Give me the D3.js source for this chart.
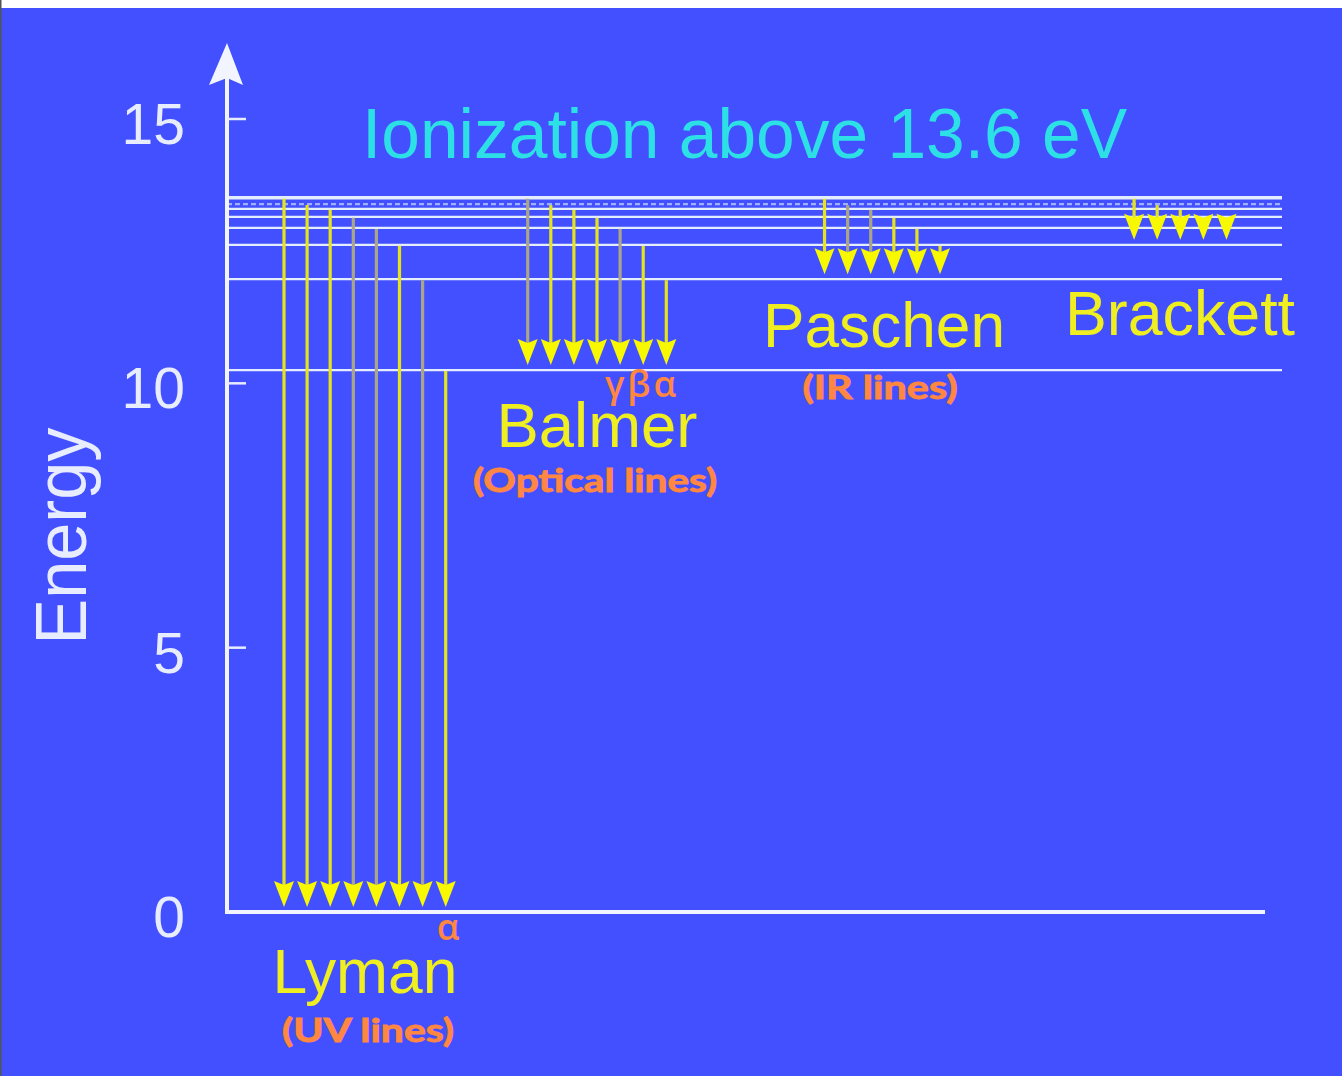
<!DOCTYPE html>
<html>

<head>
  <link rel="shortcut icon" href="#">
  <style>
    body {
      margin: 0;
      background: #ffffff;
    }

    .axis-label {
      font-family: "Liberation Sans", Arial, sans-serif;
      fill: #e8ecff;
    }

    .series-name {
      font-family: "Liberation Sans", Arial, sans-serif;
      fill: #eeee20;
    }

    .series-note {
      font-family: Lato, "Open Sans", sans-serif;
      font-weight: 700;
      fill: #ff8742;
      stroke: #ff8742;
      stroke-width: 0.9px;
    }

    .greek {
      font-family: "Open Sans", "Noto Sans", sans-serif;
      font-weight: 600;
      fill: #ff8742;
    }
  </style>
</head>

<body>
  <script src="https://d3js.org/d3.v7.min.js"></script>
  <svg id="chart"></svg>

  <script>
    // energy levels (eV) by principal number n
    var levelN = [1, 2, 3, 4, 5, 6, 7, 8, 9];
    var levelEnergy = [0, 10.25, 11.97, 12.62, 12.94, 13.15, 13.30, 13.39, 13.51];
    var ionizationEnergy = 13.6;

    // the four series: name, lower level, wavelength band
    var seriesNames = ["Lyman", "Balmer", "Paschen", "Brackett"];
    var seriesLower = [1, 2, 3, 4];
    var seriesNotes = ["(UV lines)", "(Optical lines)", "(IR lines)", ""];
    var seriesGreek = ["\u03b1", "\u03b3\u03b2\u03b1", "", ""];

    var yTicks = [0, 5, 10, 15];
    var titleText = "Ionization above " + ionizationEnergy + " eV";

    var width = 1342;
    var height = 1076;

    var svg = d3.select("#chart")
      .attr("width", width)
      .attr("height", height)
      .style("display", "block");

    // background, white strip on top like the slide grab
    svg.append("rect")
      .attr("width", width)
      .attr("height", height)
      .attr("fill", "#ffffff");
    svg.append("rect")
      .attr("x", 0)
      .attr("y", 8)
      .attr("width", width)
      .attr("height", height - 8)
      .attr("fill", "#4350ff");
    svg.append("line")
      .attr("x1", 0.75).attr("x2", 0.75)
      .attr("y1", 0).attr("y2", height)
      .attr("stroke", "#555555")
      .attr("stroke-width", 1.5);

    var y = d3.scaleLinear()
      .domain([0, 15])
      .range([912, 119]);

    // arrow columns, one unit per transition
    var x = d3.scaleLinear()
      .domain([0, 40])
      .range([284, 284 + 40 * 23.1]);

    var axisX = 227;
    var levelRight = 1282;

    var energyOf = function(n) {
      return levelEnergy[levelN.indexOf(n)];
    };

    // glow filter for the level lines
    var defs = svg.append("defs");
    var glow = defs.append("filter").attr("id", "glow")
      .attr("x", "-5%").attr("y", "-200%")
      .attr("width", "110%").attr("height", "500%");
    glow.append("feGaussianBlur").attr("stdDeviation", 1.2);

    var soft = defs.append("filter").attr("id", "soft")
      .attr("x", "-20%").attr("y", "-20%")
      .attr("width", "140%").attr("height", "140%");
    soft.append("feGaussianBlur").attr("stdDeviation", 0.7);

    //level lines (n >= 2)
    var levels = svg.append("g");
    var upper = levelN.filter(function(n) { return n > 1; });

    levels.selectAll(".halo")
      .data(upper)
      .enter()
      .append("line")
      .attr("x1", axisX)
      .attr("x2", levelRight)
      .attr("y1", function(n) { return y(energyOf(n)); })
      .attr("y2", function(n) { return y(energyOf(n)); })
      .attr("stroke", "#b8c8ff")
      .attr("stroke-width", function(n) { return n === 9 ? 8 : 5; })
      .attr("opacity", function(n) { return n === 8 ? 0.35 : 0.55; })
      .attr("filter", "url(#glow)");

    levels.selectAll(".level")
      .data(upper)
      .enter()
      .append("line")
      .attr("x1", axisX)
      .attr("x2", levelRight)
      .attr("y1", function(n) { return y(energyOf(n)); })
      .attr("y2", function(n) { return y(energyOf(n)); })
      .attr("stroke", function(n) { return n === 8 ? "#9fb0ff" : "#e4ecff"; })
      .attr("stroke-width", function(n) { return n === 9 ? 3.5 : 2.2; })
      .attr("stroke-dasharray", function(n) { return n === 8 ? "5,3" : null; });

    // arrows
    var faded = {
      Lyman: [6, 5, 3],
      Balmer: [9, 5],
      Paschen: [8, 7],
      Brackett: []
    };
    var seriesStart = [0, 10.55, 23.4, 36.8];

    var transitions = [];
    seriesNames.forEach(function(name, s) {
      var lo = seriesLower[s];
      var i = 0;
      for (var n = 9; n > lo; n--) {
        transitions.push({
          series: name,
          from: n,
          to: lo,
          col: seriesStart[s] + i
        });
        i++;
      }
    });

    var headLen = 26;
    var headHalf = 10;
    var notch = 4;
    var gap = 5;

    var arrows = svg.append("g")
      .attr("filter", "url(#soft)")
      .selectAll("g")
      .data(transitions)
      .enter()
      .append("g");

    arrows.append("line")
      .attr("x1", function(d) { return x(d.col); })
      .attr("x2", function(d) { return x(d.col); })
      .attr("y1", function(d) { return y(energyOf(d.from)) + 1; })
      .attr("y2", function(d) { return y(energyOf(d.to)) - gap - headLen + notch; })
      .attr("stroke", function(d) {
        return faded[d.series].indexOf(d.from) >= 0 ? "#aaa585" : "#e4e41c";
      })
      .attr("stroke-width", 3.2);

    arrows.append("path")
      .attr("d", function(d) {
        var cx = x(d.col);
        var tip = y(energyOf(d.to)) - gap;
        return "M" + cx + "," + tip +
          "L" + (cx - headHalf) + "," + (tip - headLen) +
          "L" + cx + "," + (tip - headLen + notch) +
          "L" + (cx + headHalf) + "," + (tip - headLen) + "Z";
      })
      .attr("fill", "#f8f800");

    // axis: ground line and vertical arrow
    svg.append("line")
      .attr("x1", axisX - 2)
      .attr("x2", 1265)
      .attr("y1", y(0))
      .attr("y2", y(0))
      .attr("stroke", "#f2f4ff")
      .attr("stroke-width", 4);

    svg.append("line")
      .attr("x1", axisX)
      .attr("x2", axisX)
      .attr("y1", y(0) + 2)
      .attr("y2", 70)
      .attr("stroke", "#f2f4ff")
      .attr("stroke-width", 4);

    svg.append("path")
      .attr("d", "M" + axisX + ",43L" + (axisX - 18) + ",85L" + axisX + ",78L" + (axisX + 16) + ",85Z")
      .attr("fill", "#f2f4ff");

    var tickG = svg.append("g");
    tickG.selectAll("line")
      .data(yTicks.filter(function(t) { return t > 0; }))
      .enter()
      .append("line")
      .attr("x1", axisX)
      .attr("x2", axisX + 19)
      .attr("y1", function(t) { return y(t); })
      .attr("y2", function(t) { return y(t); })
      .attr("stroke", "#e8ecff")
      .attr("stroke-width", 2.5);

    tickG.selectAll("text")
      .data(yTicks)
      .enter()
      .append("text")
      .attr("class", "axis-label")
      .attr("x", 185)
      .attr("y", function(t) { return y(t) + 25; })
      .attr("text-anchor", "end")
      .attr("font-size", 57)
      .text(function(t) { return t; });

    svg.append("text")
      .attr("class", "axis-label")
      .attr("transform", "translate(86,536) rotate(-90)")
      .attr("text-anchor", "middle")
      .attr("font-size", 72)
      .attr("textLength", 217)
      .attr("lengthAdjust", "spacingAndGlyphs")
      .text("Energy");

    // title
    svg.append("text")
      .attr("x", 362)
      .attr("y", 158)
      .attr("font-family", "'Liberation Sans', Arial, sans-serif")
      .attr("font-size", 70)
      .attr("fill", "#2de0e6")
      .attr("textLength", 765)
      .attr("lengthAdjust", "spacingAndGlyphs")
      .text(titleText);

    // series labels
    var nameSpots = [
      { cx: 365, by: 993, w: 185 },
      { cx: 597, by: 447, w: 201 },
      { cx: 884, by: 347, w: 242 },
      { cx: 1180, by: 335, w: 230 }
    ];
    var noteSpots = [
      { cx: 368, by: 1042, w: 172 },
      { cx: 595, by: 492, w: 244 },
      { cx: 880, by: 399, w: 155 }
    ];
    var greekSpots = [
      { cx: 448, by: 940 },
      { cx: 642, by: 397 }
    ];

    svg.append("g").selectAll("text")
      .data(seriesNames)
      .enter()
      .append("text")
      .attr("class", "series-name")
      .attr("x", function(d, i) { return nameSpots[i].cx; })
      .attr("y", function(d, i) { return nameSpots[i].by; })
      .attr("text-anchor", "middle")
      .attr("font-size", 63)
      .attr("textLength", function(d, i) { return nameSpots[i].w; })
      .attr("lengthAdjust", "spacingAndGlyphs")
      .text(function(d) { return d; });

    svg.append("g").selectAll("text")
      .data(seriesNotes.filter(function(d) { return d !== ""; }))
      .enter()
      .append("text")
      .attr("class", "series-note")
      .attr("x", function(d, i) { return noteSpots[i].cx; })
      .attr("y", function(d, i) { return noteSpots[i].by; })
      .attr("text-anchor", "middle")
      .attr("font-size", 33)
      .attr("textLength", function(d, i) { return noteSpots[i].w; })
      .attr("lengthAdjust", "spacingAndGlyphs")
      .text(function(d) { return d; });

    // greek letters marking the first lines of each series
    svg.append("g").selectAll("text")
      .data(seriesGreek.filter(function(d) { return d !== ""; }))
      .enter()
      .append("text")
      .attr("class", "greek")
      .attr("x", function(d, i) { return greekSpots[i].cx; })
      .attr("y", function(d, i) { return greekSpots[i].by; })
      .attr("text-anchor", "middle")
      .attr("font-size", 36)
      .attr("letter-spacing", function(d) { return d.length > 1 ? 3 : 0; })
      .text(function(d) { return d; });
  </script>
</body>

</html>
